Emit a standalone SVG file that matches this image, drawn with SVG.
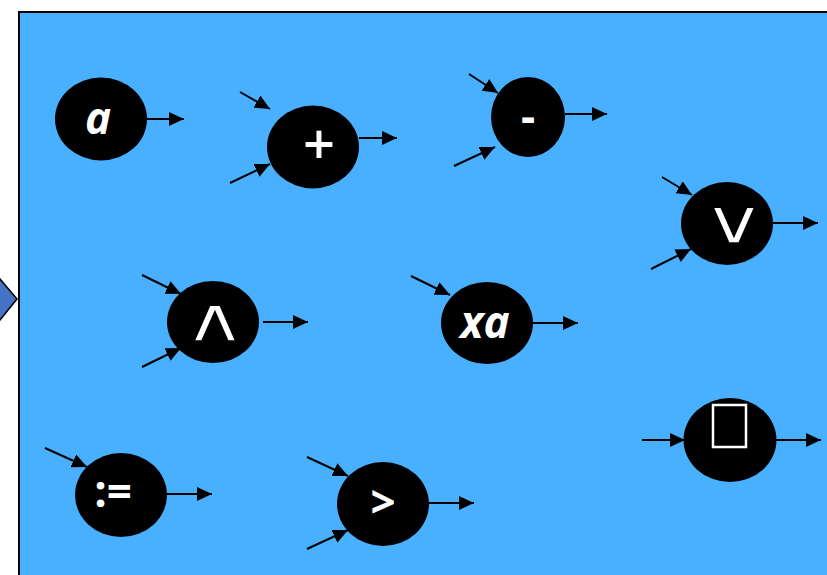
<svg xmlns="http://www.w3.org/2000/svg" width="827" height="575" viewBox="0 0 827 575">
  <defs>
    <marker id="head" markerUnits="userSpaceOnUse" markerWidth="16" markerHeight="14" refX="15" refY="7" orient="auto">
      <path d="M0,0 L15,7 L0,14 z" fill="#000"/>
    </marker>
    <style>
      .op { fill: #000; }
      .lbl { fill: #fff; font-family: "Open Sans", "DejaVu Sans", sans-serif; font-weight: bold; font-size: 44px; text-anchor: middle; }
      .it { font-style: italic; }
      /* logic symbols: a thin black outline over the fill keeps the strokes slim */
      .sym { fill: #fff; stroke: #000; stroke-width: 1.6; font-family: "DejaVu Sans", sans-serif; font-size: 62px; text-anchor: middle; }
      .edge { stroke: #000; stroke-width: 2; fill: none; marker-end: url(#head); }
    </style>
  </defs>

  <rect width="827" height="575" fill="#fff"/>
  <!-- panel -->
  <rect x="19" y="12" width="820" height="580" fill="#48b0ff" stroke="#000" stroke-width="2"/>
  <!-- pointer on the left edge -->
  <polygon points="0,279 17,299 0,320 -17,299" fill="#4472c4" stroke="#000" stroke-width="1.5"/>

  <g id="node-a">
    <ellipse class="op" cx="101" cy="119" rx="46" ry="41.5"/>
    <text class="lbl it" x="98" y="134">a</text>
  </g>
  <g id="node-plus">
    <ellipse class="op" cx="313" cy="147" rx="46" ry="41.5"/>
    <text class="lbl" x="319" y="164" style="font-size:56px;font-weight:600">+</text>
  </g>
  <g id="node-minus">
    <ellipse class="op" cx="528" cy="117" rx="37" ry="40"/>
    <text class="lbl" x="528" y="132">-</text>
  </g>
  <g id="node-or">
    <ellipse class="op" cx="727" cy="223.5" rx="46" ry="41.5"/>
    <text class="sym" transform="translate(734,222) scale(1.44,1)" y="21">∨</text>
  </g>
  <g id="node-and">
    <ellipse class="op" cx="213" cy="322" rx="46" ry="41"/>
    <text class="sym" transform="translate(215,320) scale(1.44,1)" y="21">∧</text>
  </g>
  <g id="node-xa">
    <ellipse class="op" cx="487" cy="323" rx="46" ry="41"/>
    <text class="lbl it" x="485" y="338">xa</text>
  </g>
  <g id="node-assign">
    <ellipse class="op" cx="121" cy="495" rx="46" ry="42"/>
    <text class="lbl" x="113" y="507">:=</text>
  </g>
  <g id="node-gt">
    <ellipse class="op" cx="383" cy="504" rx="46" ry="42"/>
    <text class="lbl" x="383" y="518">&gt;</text>
  </g>
  <g id="node-box">
    <ellipse class="op" cx="730" cy="440" rx="46.5" ry="42"/>
    <rect x="713" y="405" width="33" height="42" fill="none" stroke="#fff" stroke-width="2.5"/>
  </g>

  <g id="connectors">
    <line class="edge" x1="147" y1="119" x2="184" y2="119"/>

    <line class="edge" x1="240" y1="92" x2="270" y2="109"/>
    <line class="edge" x1="230" y1="183" x2="270" y2="164"/>
    <line class="edge" x1="359" y1="138" x2="397" y2="138"/>

    <line class="edge" x1="469" y1="74" x2="498" y2="93"/>
    <line class="edge" x1="454" y1="166" x2="495" y2="147"/>
    <line class="edge" x1="565" y1="114" x2="607" y2="114"/>

    <line class="edge" x1="662" y1="177" x2="692" y2="195"/>
    <line class="edge" x1="651" y1="269" x2="691" y2="249"/>
    <line class="edge" x1="773" y1="223" x2="818" y2="223"/>

    <line class="edge" x1="142" y1="275" x2="181" y2="294"/>
    <line class="edge" x1="142" y1="367" x2="181" y2="348"/>
    <line class="edge" x1="263" y1="322" x2="308" y2="322"/>

    <line class="edge" x1="411" y1="276" x2="450" y2="295"/>
    <line class="edge" x1="533" y1="323" x2="578" y2="323"/>

    <line class="edge" x1="45" y1="448" x2="87" y2="467"/>
    <line class="edge" x1="167" y1="494" x2="212" y2="494"/>

    <line class="edge" x1="307" y1="457" x2="348" y2="476"/>
    <line class="edge" x1="307" y1="549" x2="348" y2="530"/>
    <line class="edge" x1="429" y1="503" x2="474" y2="503"/>

    <line class="edge" x1="642" y1="440" x2="685" y2="440"/>
    <line class="edge" x1="776" y1="440" x2="821" y2="440"/>
  </g>
</svg>
